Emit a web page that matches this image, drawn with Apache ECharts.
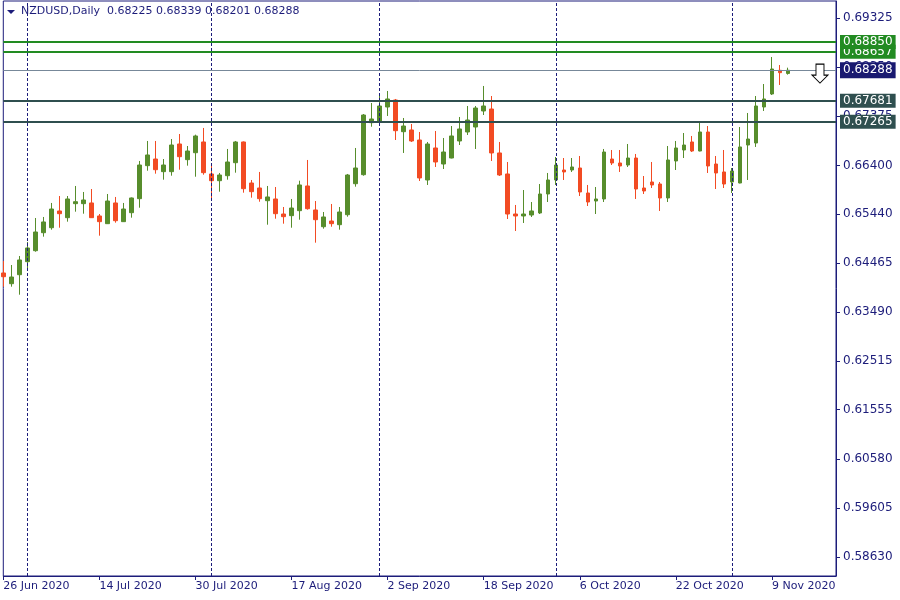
<!DOCTYPE html>
<html><head><meta charset="utf-8">
<script src="https://cdn.jsdelivr.net/npm/echarts@6/dist/echarts.min.js"></script>
<style>html,body{margin:0;padding:0;background:#fff}#c{width:900px;height:600px}</style>
</head><body><div id="c"></div>
<script>
// ---- trading days (categories) ----
const junDays = [26,29,30];
const julDays = [1,2,3,6,7,8,9,10,13,14,15,16,17,20,21,22,23,24,27,28,29,30,31];
const augDays = [3,4,5,6,7,10,11,12,13,14,17,18,19,20,21,24,25,26,27,28,31];
const sepDays = [1,2,3,4,7,8,9,10,11,14,15,16,17,18,21,22,23,24,25,28,29,30];
const octDays = [1,2,5,6,7,8,9,12,13,14,15,16,19,20,21,22,23,26,27,28,29,30];
const novDays = [2,3,4,5,6,9,10,11,12,13,16,17,18,19];
const monthList = [['Jun',junDays],['Jul',julDays],['Aug',augDays],['Sep',sepDays],['Oct',octDays],['Nov',novDays]];
const categories = [];
monthList.forEach(([m, days]) => days.forEach(d => categories.push(d + ' ' + m + ' 2020')));
const monthStarts = ['1 Jul 2020','3 Aug 2020','1 Sep 2020','1 Oct 2020','2 Nov 2020'];

// ---- OHLC values ----
const opens = [0.64266,0.64053,0.64232,0.64490,0.64708,0.65065,0.65164,0.65496,0.65363,0.65641,
0.65641,0.65655,0.65397,0.65244,0.65655,0.65284,0.65462,0.65740,0.66395,0.66527,
0.66276,0.66276,0.66825,0.66514,0.66652,0.66865,0.66230,0.66097,0.66196,0.66454,
0.66865,0.66051,0.65952,0.65700,0.65734,0.65436,0.65403,0.65502,0.65992,0.65516,
0.65184,0.65297,0.65224,0.65422,0.66037,0.66216,0.67248,0.67256,0.67559,0.67698,
0.67069,0.67103,0.66904,0.66111,0.66746,0.66428,0.66547,0.66885,0.67063,0.67162,
0.67480,0.67519,0.66647,0.66230,0.65436,0.65397,0.65416,0.65456,0.65833,0.66111,
0.66309,0.66309,0.66349,0.65853,0.65694,0.65734,0.66527,0.66448,0.66408,0.66547,
0.65952,0.66071,0.66031,0.65754,0.66488,0.66706,0.66865,0.66686,0.67063,0.66428,
0.66270,0.66071,0.66051,0.66805,0.66845,0.67559,0.67817,0.68287,0.68225];
const closes = [0.64192,0.64186,0.64524,0.64762,0.65079,0.65278,0.65535,0.65442,0.65734,0.65680,
0.65714,0.65363,0.65284,0.65694,0.65303,0.65535,0.65754,0.66408,0.66607,0.66315,
0.66408,0.66805,0.66573,0.66686,0.66984,0.66256,0.66097,0.66210,0.66468,0.66865,
0.65938,0.65879,0.65740,0.65774,0.65442,0.65383,0.65555,0.66012,0.65541,0.65323,
0.65377,0.65244,0.65476,0.66210,0.66349,0.67400,0.67321,0.67579,0.67718,0.67089,
0.67182,0.66885,0.66151,0.66825,0.66468,0.66666,0.66984,0.67123,0.67301,0.67539,
0.67579,0.66647,0.66210,0.65436,0.65397,0.65436,0.65496,0.65833,0.66111,0.66408,
0.66270,0.66369,0.65873,0.65674,0.65734,0.66666,0.66448,0.66389,0.66547,0.65932,
0.65893,0.66012,0.65754,0.66508,0.66746,0.66805,0.66686,0.67063,0.66389,0.66250,
0.66031,0.66289,0.66766,0.66924,0.67579,0.67718,0.68313,0.68240,0.68288];
const lows = [0.63994,0.63994,0.63835,0.64351,0.64688,0.64986,0.65125,0.65164,0.65284,0.65482,
0.65442,0.65357,0.65006,0.65238,0.65264,0.65278,0.65363,0.65561,0.66295,0.66236,
0.66117,0.66196,0.66315,0.66395,0.66176,0.66216,0.65714,0.65879,0.66117,0.66256,
0.65859,0.65760,0.65680,0.65224,0.65343,0.65244,0.65164,0.65323,0.65522,0.64867,
0.65145,0.65184,0.65125,0.65383,0.65978,0.66196,0.67168,0.67236,0.67381,0.66904,
0.66647,0.66865,0.66091,0.66012,0.66369,0.66329,0.66540,0.66805,0.67004,0.66726,
0.67400,0.66488,0.66190,0.65337,0.65099,0.65258,0.65377,0.65436,0.65674,0.66012,
0.66111,0.66270,0.65793,0.65595,0.65436,0.65674,0.66408,0.66270,0.66369,0.65734,
0.65833,0.65952,0.65496,0.65674,0.66309,0.66547,0.66666,0.66680,0.66250,0.65932,
0.65952,0.65853,0.66045,0.66111,0.66766,0.67480,0.67797,0.67996,0.68201];
const highs = [0.64504,0.64424,0.64603,0.64881,0.65357,0.65377,0.65655,0.65793,0.65793,0.65992,
0.65873,0.65932,0.65436,0.65833,0.65774,0.65655,0.65764,0.66488,0.66885,0.66885,
0.66527,0.66924,0.67023,0.66785,0.67010,0.67143,0.66408,0.66250,0.66726,0.66885,
0.66875,0.66111,0.66270,0.65992,0.65972,0.65575,0.65734,0.66097,0.66508,0.65694,
0.65476,0.65635,0.65575,0.66230,0.66746,0.67420,0.67638,0.67777,0.67877,0.67718,
0.67341,0.67222,0.67063,0.66865,0.67083,0.66944,0.67182,0.67361,0.67579,0.67579,
0.67976,0.67777,0.66865,0.66468,0.65615,0.65912,0.65674,0.66031,0.66250,0.66567,
0.66547,0.66547,0.66587,0.66012,0.65972,0.66726,0.66706,0.66706,0.66825,0.66627,
0.66190,0.66468,0.66071,0.66785,0.66885,0.67043,0.66984,0.67242,0.67182,0.66587,
0.66706,0.66349,0.67162,0.67440,0.67777,0.68015,0.68551,0.68392,0.68339];

// ---- levels & ticks ----
const resistanceLevels = [0.68850, 0.68657];
const supportLevels = [0.67681, 0.67265];
const yTicks = [0.69325,0.68350,0.67375,0.66400,0.65440,0.64465,0.63490,0.62515,0.61555,0.60580,0.59605,0.58630];
const yMin = 0.58254, yMax = 0.69662;
const arrowMark = { date: '17 Nov 2020', price: 0.68222 };

const NAVY = '#1c1c7a';
const BULL = '#578d2c';
const BEAR = '#f24b23';
const GREEN = '#228b22';
const SLATE = '#2f4f4f';
const BIDLINE = '#778899';
const FONT = 'DejaVu Sans';

const ohlc = opens.map((o, i) => [o, closes[i], lows[i], highs[i]]);
const last = ohlc.length - 1;
const lastClose = closes[last];
const headerText = 'NZDUSD,Daily  ' + [opens[last], highs[last], lows[last], closes[last]].map(v => v.toFixed(5)).join(' ');

function levelLine(v, color, width, bg, pad) {
  return {
    yAxis: v,
    lineStyle: { color: color, width: width, type: 'solid' },
    label: {
      show: true, position: 'end', distance: 4,
      formatter: () => v.toFixed(5),
      backgroundColor: bg, color: '#ffffff',
      padding: pad || [1, 3, 1, 3], fontSize: 12, fontFamily: FONT, lineHeight: 12
    }
  };
}

const markLineData = [
  ...monthStarts.map(d => ({ xAxis: d, lineStyle: { color: NAVY, width: 1, type: [3, 2] }, label: { show: false } })),
  levelLine(supportLevels[1], SLATE, 2, SLATE),
  levelLine(supportLevels[0], SLATE, 2, SLATE),
  levelLine(lastClose, BIDLINE, 1, '#191970', [3, 3, 1, 3]),
  levelLine(resistanceLevels[1], GREEN, 2, GREEN),
  levelLine(resistanceLevels[0], GREEN, 2, GREEN)
];

const chart = echarts.init(document.getElementById('c'), null, { renderer: 'canvas' });
chart.setOption({
  animation: false,
  backgroundColor: '#ffffff',
  textStyle: { fontFamily: FONT },
  grid: { left: 3.3, right: 64, top: 1, bottom: 24, show: true, borderColor: NAVY, borderWidth: 1 },
  xAxis: {
    type: 'category', data: categories, boundaryGap: false,
    axisLine: { show: true, lineStyle: { color: NAVY, width: 1 } },
    axisTick: { show: true, interval: 11, length: 4, lineStyle: { color: NAVY } },
    axisLabel: { interval: 11, align: 'left', margin: 5, color: NAVY, fontSize: 11, fontFamily: FONT },
    splitLine: { show: false }
  },
  yAxis: {
    type: 'value', position: 'right', min: yMin, max: yMax,
    axisLine: { show: true, lineStyle: { color: NAVY, width: 1 } },
    axisTick: { show: true, customValues: yTicks, length: 4, lineStyle: { color: NAVY } },
    axisLabel: { customValues: yTicks, formatter: v => Number(v).toFixed(5), margin: 7, color: NAVY, fontSize: 12, fontFamily: FONT },
    splitLine: { show: false }
  },
  graphic: [
    { type: 'polygon', left: 7, top: 10, shape: { points: [[0,0],[8,0],[4,4]] }, style: { fill: NAVY } },
    { type: 'text', left: 21, top: 6, style: { text: headerText, fill: NAVY, font: '11px "DejaVu Sans"' } }
  ],
  series: [{
    type: 'candlestick',
    data: ohlc,
    barWidth: 4,
    itemStyle: { color: BULL, color0: BEAR, borderColor: BULL, borderColor0: BEAR, borderWidth: 1 },
    markLine: { symbol: 'none', silent: true, precision: 5, animation: false, emphasis: { disabled: true }, data: markLineData },
    markPoint: {
      silent: true, animation: false,
      data: [{
        coord: [arrowMark.date, arrowMark.price],
        symbol: 'path://M4,0 L12,0 L12,11 L16,11 L8,19 L0,11 L4,11 Z',
        symbolSize: [16, 19],
        itemStyle: { color: '#ffffff', borderColor: '#000000', borderWidth: 1 },
        label: { show: false }
      }]
    }
  }]
});
</script>
</body></html>
